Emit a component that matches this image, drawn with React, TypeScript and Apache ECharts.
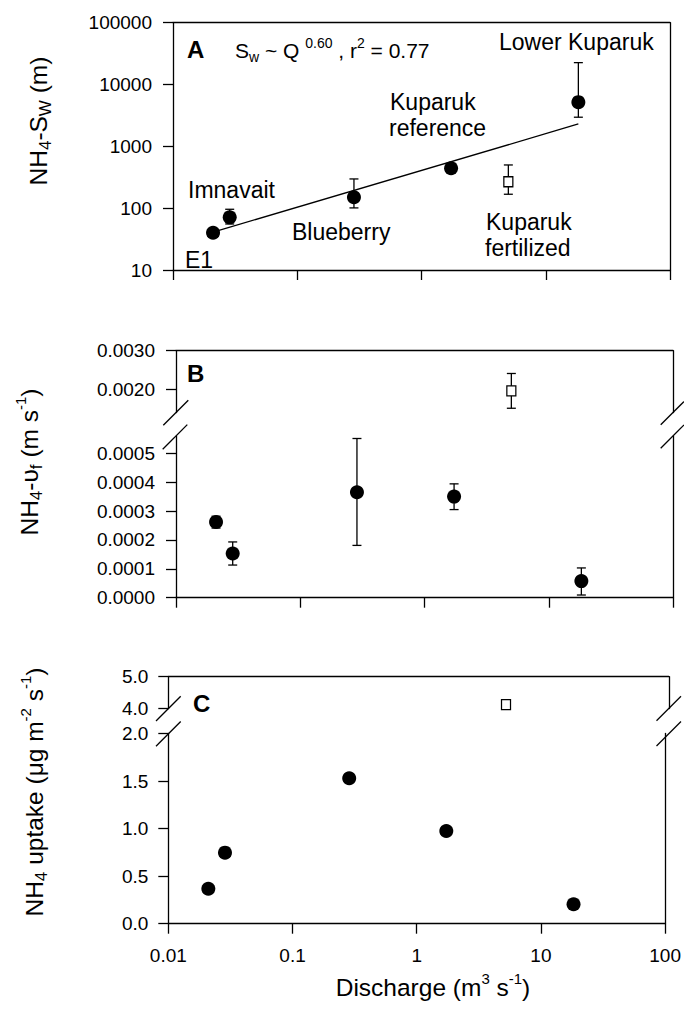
import React, { useEffect, useRef } from 'react';
import * as echarts from 'echarts';

// ---- data ----
const sites = ['E1', 'Imnavait', 'Blueberry', 'Kuparuk reference', 'Lower Kuparuk'];
const discharge = [0.021, 0.0286, 0.286, 1.73, 18.3];
// Panel A: NH4 uptake length Sw (m)
const swLength = [40, 71, 150, 443, 5180];
const swLow = [null, 55.5, 101, null, 2960];
const swHigh = [null, 96, 297, null, 22600];
// Kuparuk fertilized (open square)
const fertDischarge = [5.0];
const fertSw = [268];
const fertSwLow = [168];
const fertSwHigh = [500];
// regression Sw ~ Q^0.60
const regQ = [0.021, 18.3];
const regSw = [41, 2300];
// Panel B: uptake velocity vf (m s-1)
const vf = [0.000262, 0.000153, 0.000365, 0.00035, 0.0000575];
const vfLow = [0.000241, 0.000113, 0.000181, 0.000305, 0.0000093];
const vfHigh = [0.000282, 0.000193, 0.000551, 0.000394, 0.000103];
const fertVf = [0.00196];
const fertVfLow = [0.00151];
const fertVfHigh = [0.00241];
// Panel C: NH4 uptake (ug m-2 s-1)
const uptake = [0.368, 0.747, 1.529, 0.975, 0.204];
const fertUptake = [4.12];
// tick labels
const xTicks = [0.01, 0.1, 1, 10, 100];
const ySwTicks = [10, 100, 1000, 10000, 100000];
const yVfUpperTicks = [0.002, 0.003];
const yVfLowerTicks = [0, 0.0001, 0.0002, 0.0003, 0.0004, 0.0005];
const yUpUpperTicks = [4, 5];
const yUpLowerTicks = [0, 0.5, 1, 1.5, 2];

const FF = '"Liberation Sans", Arial, Helvetica, sans-serif';
const INK = '#000';

const lineStyle = { color: INK, width: 1.3 };

function xLogAxis(gridIndex: number, mode: 'bottom' | 'bottomLabels' | 'top') {
  return {
    type: 'log',
    logBase: 10,
    gridIndex,
    min: xTicks[0],
    max: xTicks[xTicks.length - 1],
    position: mode === 'top' ? 'top' : 'bottom',
    axisLine: { show: true, onZero: false, lineStyle },
    axisTick: { show: mode !== 'top', inside: false, length: 10, lineStyle },
    minorTick: { show: false },
    axisLabel: {
      show: mode === 'bottomLabels',
      margin: 22,
      color: INK,
      fontSize: 19,
      fontFamily: FF,
      formatter: (v: number) => String(Number(v.toPrecision(3))),
    },
    splitLine: { show: false },
  };
}

function rightBorder(gridIndex: number) {
  return {
    type: 'value',
    gridIndex,
    position: 'right',
    min: 0,
    max: 1,
    axisLine: { show: true, onZero: false, lineStyle },
    axisTick: { show: false },
    axisLabel: { show: false },
    splitLine: { show: false },
  };
}

function leftValueAxis(gridIndex: number, min: number, max: number, ticks: number[], digits: number, margin: number) {
  return {
    type: 'value',
    gridIndex,
    position: 'left',
    min,
    max,
    axisLine: { show: true, onZero: false, lineStyle },
    axisTick: { show: true, inside: false, length: 10, lineStyle, customValues: ticks },
    axisLabel: {
      color: INK,
      fontSize: 19,
      fontFamily: FF,
      margin,
      customValues: ticks,
      formatter: (v: number) => v.toFixed(digits),
    },
    splitLine: { show: false },
  };
}

function errorSeries(xAxisIndex: number, yAxisIndex: number, data: number[][]) {
  return {
    type: 'custom',
    xAxisIndex,
    yAxisIndex,
    silent: true,
    z: 2,
    encode: { x: 0, y: [1, 2] },
    data,
    renderItem: (params: any, api: any) => {
      const x = api.value(0);
      const lo = api.coord([x, api.value(1)]);
      const hi = api.coord([x, api.value(2)]);
      const w = 4.5;
      const style = { stroke: INK, lineWidth: 1.3 };
      return {
        type: 'group',
        children: [
          { type: 'line', shape: { x1: lo[0], y1: lo[1], x2: hi[0], y2: hi[1] }, style },
          { type: 'line', shape: { x1: hi[0] - w, y1: hi[1], x2: hi[0] + w, y2: hi[1] }, style },
          { type: 'line', shape: { x1: lo[0] - w, y1: lo[1], x2: lo[0] + w, y2: lo[1] }, style },
        ],
      };
    },
  };
}

function circles(xAxisIndex: number, yAxisIndex: number, ys: number[]) {
  return {
    type: 'scatter',
    name: 'sites',
    xAxisIndex,
    yAxisIndex,
    z: 3,
    symbol: 'circle',
    symbolSize: 14,
    itemStyle: { color: '#000', opacity: 1 },
    data: discharge.map((q, i) => ({ name: sites[i], value: [q, ys[i]] })),
  };
}

function square(xAxisIndex: number, yAxisIndex: number, ys: number[]) {
  return {
    type: 'scatter',
    name: 'Kuparuk fertilized',
    xAxisIndex,
    yAxisIndex,
    z: 4,
    symbol: 'rect',
    symbolSize: [9, 10],
    itemStyle: { color: '#fff', borderColor: INK, borderWidth: 1.3, opacity: 1 },
    data: fertDischarge.map((q, i) => [q, ys[i]]),
  };
}

const rich = {
  sub: { fontSize: 17, lineHeight: 17, verticalAlign: 'bottom', fontFamily: FF, fill: INK },
  sup: { fontSize: 15, lineHeight: 15, verticalAlign: 'top', fontFamily: FF, fill: INK },
  ssub: { fontSize: 14, lineHeight: 14, verticalAlign: 'bottom', fontFamily: FF, fill: INK },
  ssup: { fontSize: 14, lineHeight: 14, verticalAlign: 'top', fontFamily: FF, fill: INK },
};

function txt(text: string, x: number, y: number, size: number, opts: any = {}) {
  return {
    type: 'text',
    x,
    y,
    rotation: opts.rotation || 0,
    silent: true,
    z: 10,
    style: {
      text,
      fill: INK,
      fontSize: size,
      fontFamily: FF,
      fontWeight: opts.bold ? 'bold' : 'normal',
      align: opts.align || 'left',
      textAlign: opts.align || 'left',
      verticalAlign: 'middle',
      textVerticalAlign: 'middle',
      lineHeight: opts.lineHeight || size + 6,
      rich,
    },
  };
}

function slash(x1: number, y1: number, x2: number, y2: number) {
  return {
    type: 'line',
    silent: true,
    z: 10,
    shape: { x1, y1, x2, y2 },
    style: { stroke: INK, lineWidth: 1.3 },
  };
}

export default function App() {
  const ref = useRef<HTMLDivElement>(null);
  useEffect(() => {
    document.body.style.margin = '0';
    const chart = echarts.init(ref.current!, null, { renderer: 'svg' });
    const option: any = {
      animation: false,
      backgroundColor: '#fff',
      grid: [
        { left: 173, top: 22.7, width: 497, height: 247.3 },
        { left: 176, top: 350.7, width: 497, height: 61.8 },
        { left: 176, top: 435.9, width: 497, height: 161.8 },
        { left: 168.3, top: 676.7, width: 500.5, height: 31.8 },
        { left: 168.3, top: 733.5, width: 500.5, height: 190.2 },
      ],
      xAxis: [
        xLogAxis(0, 'bottom'),
        xLogAxis(0, 'top'),
        xLogAxis(1, 'top'),
        xLogAxis(2, 'bottom'),
        xLogAxis(3, 'top'),
        xLogAxis(4, 'bottomLabels'),
      ],
      yAxis: [
        {
          type: 'log',
          logBase: 10,
          gridIndex: 0,
          position: 'left',
          min: ySwTicks[0],
          max: ySwTicks[ySwTicks.length - 1],
          axisLine: { show: true, onZero: false, lineStyle },
          axisTick: { show: true, inside: false, length: 10, lineStyle },
          minorTick: { show: false },
          axisLabel: {
            color: INK,
            fontSize: 19,
            fontFamily: FF,
            margin: 21,
            formatter: (v: number) => String(Math.round(v)),
          },
          splitLine: { show: false },
        },
        rightBorder(0),
        leftValueAxis(1, 0.0014, 0.003, yVfUpperTicks, 4, 21),
        rightBorder(1),
        leftValueAxis(2, 0, 0.00056, yVfLowerTicks, 4, 21),
        rightBorder(2),
        leftValueAxis(3, 4, 5, yUpUpperTicks, 1, 20),
        rightBorder(3),
        leftValueAxis(4, 0, 2, yUpLowerTicks, 1, 20),
        rightBorder(4),
      ],
      series: [
        {
          type: 'line',
          name: 'fit',
          xAxisIndex: 0,
          yAxisIndex: 0,
          z: 2,
          showSymbol: false,
          symbol: 'none',
          lineStyle: { color: INK, width: 1.3 },
          data: regQ.map((q, i) => [q, regSw[i]]),
        },
        errorSeries(
          0,
          0,
          discharge
            .map((q, i) => (swLow[i] == null ? null : [q, swLow[i] as number, swHigh[i] as number]))
            .filter(Boolean) as number[][]
        ),
        errorSeries(0, 0, fertDischarge.map((q, i) => [q, fertSwLow[i], fertSwHigh[i]])),
        circles(0, 0, swLength),
        square(0, 0, fertSw),
        errorSeries(2, 2, fertDischarge.map((q, i) => [q, fertVfLow[i], fertVfHigh[i]])),
        square(2, 2, fertVf),
        errorSeries(3, 4, discharge.map((q, i) => [q, vfLow[i], vfHigh[i]])),
        circles(3, 4, vf),
        square(4, 6, fertUptake),
        circles(5, 8, uptake),
      ],
      graphic: [
        // panel letters and annotations
        txt('A', 187, 49, 24, { bold: true }),
        txt('S{ssub|w} ~ Q {ssup|0.60} , r{ssup|2} = 0.77', 235, 50, 21, { lineHeight: 28 }),
        txt('Lower Kuparuk', 499, 42, 23),
        txt('Kuparuk', 390, 102, 23),
        txt('reference', 389, 128, 23),
        txt('Imnavait', 188, 190, 23),
        txt('Blueberry', 292, 232, 23),
        txt('Kuparuk', 486, 222, 23),
        txt('fertilized', 485, 248, 23),
        txt('E1', 185, 260, 23),
        txt('B', 187, 373, 24, { bold: true }),
        txt('C', 193, 703, 24, { bold: true }),
        // axis titles
        txt('NH{sub|4}-S{sub|W} (m)', 38, 121, 24.5, { align: 'center', rotation: Math.PI / 2, lineHeight: 32 }),
        txt('NH{sub|4}-\u03C5{sub|f} (m s{sup|-1})', 29, 462, 24.5, { align: 'center', rotation: Math.PI / 2, lineHeight: 32 }),
        txt('NH{sub|4} uptake (\u03BCg m{sup|-2} s{sup|-1})', 34, 792, 24.5, { align: 'center', rotation: Math.PI / 2, lineHeight: 32 }),
        txt('Discharge (m{sup|3} s{sup|-1})', 433, 987, 24.5, { align: 'center', lineHeight: 32 }),
        // axis breaks
        slash(163.3, 425.2, 188.3, 400.2),
        slash(162.7, 449.2, 187.3, 424.6),
        slash(660.7, 424.8, 684, 401.5),
        slash(660.7, 448.2, 684, 424.9),
        slash(156, 721, 180.7, 696.3),
        slash(156, 746.2, 180.7, 721.5),
        slash(656.5, 720.8, 681, 696.3),
        slash(656.5, 746, 681, 721.5),
      ],
    };
    chart.setOption(option);
    return () => chart.dispose();
  }, []);
  return (
    <div
      ref={ref}
      style={{ position: 'fixed', left: 0, top: 0, width: 684, height: 1011, background: '#fff' }}
    />
  );
}
